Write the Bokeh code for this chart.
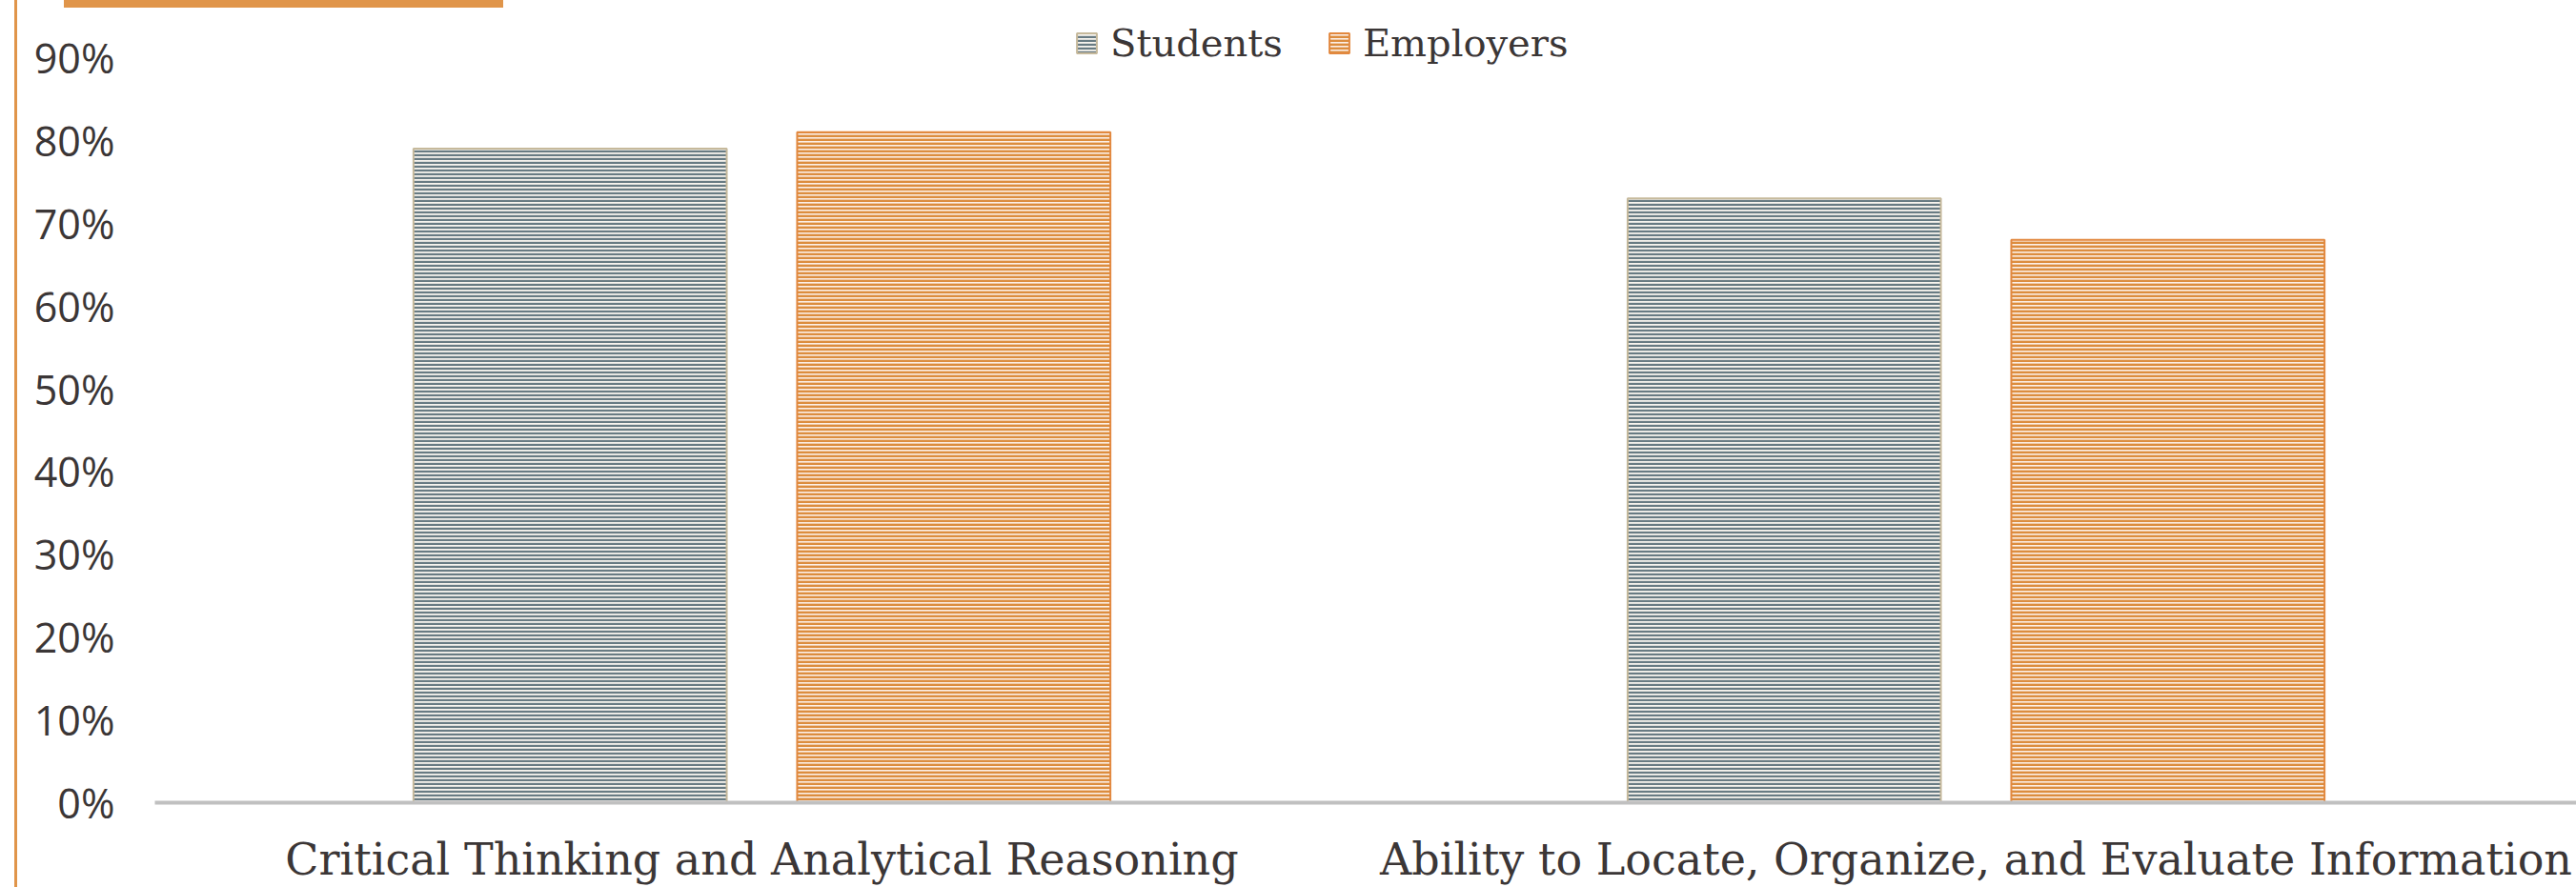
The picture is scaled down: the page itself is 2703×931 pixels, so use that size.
from bokeh.plotting import figure
from bokeh.models import (ColumnDataSource, FixedTicker, Legend, LegendItem,
                          Range1d, InlineStyleSheet)
from bokeh.transform import dodge
from bokeh.embed import file_html
from bokeh.resources import INLINE

# ---- data ----
categories = ["Critical Thinking and Analytical Reasoning",
              "Ability to Locate, Organize, and Evaluate Information"]
students = [79, 73]
employers = [81, 68]
y_ticks = [0, 10, 20, 30, 40, 50, 60, 70, 80, 90]
y_tick_labels = ["0%", "10%", "20%", "30%", "40%", "50%", "60%", "70%", "80%", "90%"]
series_names = ["Students", "Employers"]

x_pos = [i + 0.5 for i in range(len(categories))]
source = ColumnDataSource(dict(x=x_pos, cat=categories, students=students, employers=employers))

W, H = 2703, 931
p = figure(width=W, height=H, output_backend="svg", toolbar_location=None,
           x_range=Range1d(0, 1.9945), y_range=Range1d(0, 94.6),
           min_border_left=162, min_border_right=0, min_border_top=20,
           min_border_bottom=89)

p.background_fill_color = "white"
p.border_fill_color = "white"
p.outline_line_color = None
p.xgrid.visible = False
p.ygrid.visible = False

BW = 0.258
OFF = 0.158
r1 = p.vbar(x=dodge("x", -OFF), top="students", width=BW, bottom=0, source=source,
            fill_color="#f7f4ee", line_color="#c6b99b", line_width=2,
            hatch_pattern="horizontal_line", hatch_scale=4, hatch_weight=2.4,
            hatch_color="#687b83")
r2 = p.vbar(x=dodge("x", OFF), top="employers", width=BW, bottom=0, source=source,
            fill_color="#fcefe6", line_color="#e2883f", line_width=2,
            hatch_pattern="horizontal_line", hatch_scale=4, hatch_weight=2.8,
            hatch_color="#dc8d3e")

# y axis
p.yaxis.ticker = FixedTicker(ticks=y_ticks)
p.yaxis.major_label_overrides = {t: l for t, l in zip(y_ticks, y_tick_labels)}
p.yaxis.axis_line_color = None
p.yaxis.major_tick_line_color = None
p.yaxis.major_tick_out = 0
p.yaxis.minor_tick_line_color = None
p.yaxis.major_label_text_font = "Open Sans"
p.yaxis.major_label_text_font_size = "43px"
p.yaxis.major_label_text_color = "#3b3636"
p.yaxis.major_label_standoff = 42

# x axis
p.xaxis.ticker = FixedTicker(ticks=x_pos)
p.xaxis.major_label_overrides = {x: c for x, c in zip(x_pos, categories)}
p.xaxis.axis_line_color = "#c0c0c0"
p.xaxis.axis_line_width = 4
p.xaxis.major_tick_line_color = None
p.xaxis.major_tick_out = 0
p.xaxis.minor_tick_line_color = None
p.xaxis.major_label_text_font = "DejaVu Serif"
p.xaxis.major_label_text_font_size = "46px"
p.xaxis.major_label_text_color = "#3b3636"
p.xaxis.major_label_standoff = 32

legend = Legend(items=[LegendItem(label=series_names[0], renderers=[r1]),
                       LegendItem(label=series_names[1], renderers=[r2])],
                orientation="horizontal", location=(965, 774),
                glyph_width=26, glyph_height=26, label_standoff=12, spacing=46,
                padding=0, margin=0, border_line_color=None,
                background_fill_alpha=0,
                label_text_font="DejaVu Serif", label_text_font_size="40px",
                label_text_color="#3b3636")
p.add_layout(legend)

# decorative orange frame pieces (page decoration outside the plot frame)
css = """
:host::before { content: ""; position: absolute; left: 15px; top: 0px;
                width: 3px; height: 931px; background: #e0954a; z-index: 100; }
:host::after  { content: ""; position: absolute; left: 67px; top: 0px;
                width: 461px; height: 8px; background: #e0954a; z-index: 100; }
"""
p.stylesheets = [InlineStyleSheet(css=css)]

open("out.html", "w").write(file_html(p, INLINE))
